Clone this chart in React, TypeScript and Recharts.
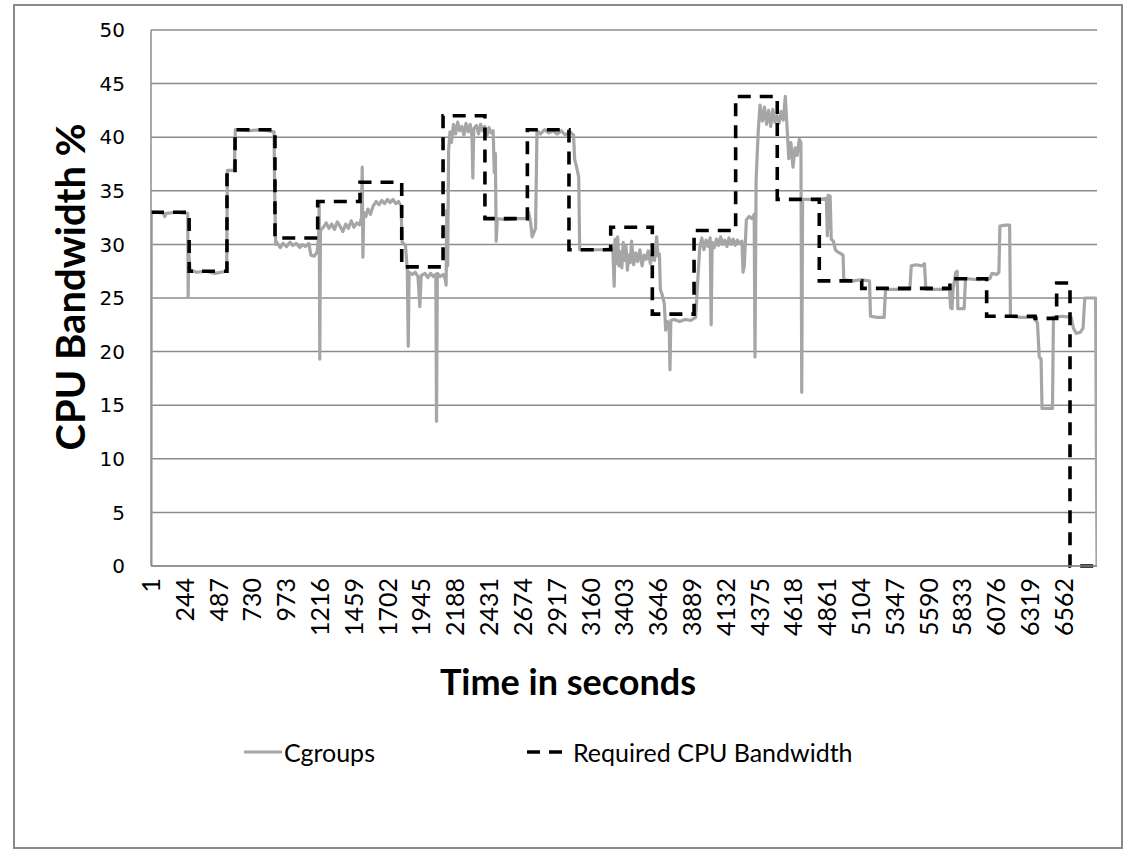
import React from 'react';
import { LineChart, Line, XAxis, YAxis, CartesianGrid } from 'recharts';

const xTicks = [1, 244, 487, 730, 973, 1216, 1459, 1702, 1945, 2188, 2431, 2674, 2917, 3160, 3403, 3646, 3889, 4132, 4375, 4618, 4861, 5104, 5347, 5590, 5833, 6076, 6319, 6562];
const yTicks = [0, 5, 10, 15, 20, 25, 30, 35, 40, 45, 50];

// Required CPU bandwidth: step breakpoints [time, value]
const requiredPoints: [number, number][] = [
  [1, 33], [275, 27.5], [547, 36.9], [605, 40.7], [892, 30.6], [1199, 34.0], [1503, 35.8],
  [1803, 27.9], [2100, 42.0], [2401, 32.4], [2706, 40.7], [3005, 29.5], [3305, 31.6],
  [3604, 23.5], [3904, 31.3], [4203, 43.8], [4502, 34.2], [4804, 26.6], [5109, 25.9],
  [5743, 26.8], [6007, 23.3], [6355, 23.1], [6510, 26.4], [6606, 0], [6800, 0],
];

// Cgroups measured bandwidth [time, value]
const cgroupsPoints: [number, number][] = [
  [1, 0], [3, 33.0], [40, 33.0], [90, 32.9], [100, 32.6], [110, 32.9], [180, 33.0], [265, 32.9], [268, 25.1], [272, 29.2], [282, 27.6],
  [330, 27.4], [400, 27.5], [460, 27.3], [545, 27.5], [550, 36.9], [600, 36.9], [607, 40.7], [700, 40.6], [800, 40.7], [885, 40.5],
  [890, 35.0], [897, 30.0], [905, 30.2], [930, 29.7], [950, 30.1], [975, 29.8], [1000, 30.2], [1020, 29.9], [1045, 30.1], [1070, 29.7],
  [1090, 30.0], [1110, 29.8], [1135, 30.1], [1150, 29.0], [1175, 28.9], [1195, 29.3], [1206, 30.8], [1210, 34.0], [1214, 19.3], [1219, 31.3],
  [1240, 31.6], [1260, 32.0], [1280, 31.5], [1300, 31.9], [1320, 31.4], [1340, 32.1], [1360, 31.7], [1380, 31.2], [1400, 31.9], [1420, 31.5],
  [1440, 32.2], [1460, 31.6], [1480, 32.0], [1500, 31.8], [1514, 32.5], [1519, 37.2], [1524, 28.8], [1530, 33.0], [1545, 32.6], [1560, 33.3],
  [1578, 32.8], [1598, 33.6], [1620, 34.0], [1640, 33.7], [1660, 34.1], [1680, 33.8], [1700, 34.2], [1720, 33.9], [1740, 34.2], [1760, 33.8],
  [1780, 34.0], [1798, 33.6], [1806, 30.2], [1830, 29.9], [1843, 27.6], [1850, 20.5], [1856, 27.4], [1880, 27.2], [1900, 27.4], [1920, 27.0],
  [1933, 24.2], [1943, 27.1], [1970, 27.3], [1990, 26.9], [2010, 27.3], [2030, 27.0], [2048, 27.2], [2053, 13.5], [2059, 27.3], [2080, 27.0],
  [2100, 27.2], [2115, 26.8], [2122, 26.2], [2127, 33.2], [2133, 28.0], [2140, 38.8], [2150, 40.5], [2160, 39.5], [2175, 41.2], [2190, 40.3],
  [2205, 41.4], [2220, 40.6], [2235, 41.0], [2250, 40.2], [2265, 41.3], [2280, 40.5], [2295, 41.2], [2308, 40.0], [2314, 36.2], [2321, 40.8],
  [2340, 41.1], [2355, 40.3], [2370, 41.2], [2385, 40.6], [2400, 41.0], [2415, 40.1], [2430, 40.9], [2445, 40.4], [2460, 40.6], [2468, 36.7],
  [2476, 38.5], [2482, 30.3], [2490, 32.4], [2550, 32.3], [2620, 32.4], [2700, 32.4], [2715, 33.0], [2730, 32.0], [2740, 30.7], [2765, 31.5],
  [2775, 40.6], [2800, 40.3], [2830, 40.7], [2860, 40.4], [2890, 40.6], [2920, 40.3], [2950, 40.6], [2980, 40.2], [3010, 40.5], [3038, 40.2],
  [3046, 37.9], [3060, 37.2], [3075, 36.3], [3082, 29.5], [3150, 29.5], [3250, 29.5], [3320, 29.6], [3330, 26.1], [3336, 30.5], [3345, 28.2],
  [3355, 30.7], [3365, 28.0], [3375, 29.3], [3385, 27.8], [3395, 30.2], [3405, 28.5], [3415, 29.8], [3425, 27.6], [3435, 29.0], [3445, 28.3],
  [3455, 30.3], [3470, 28.1], [3485, 29.2], [3500, 28.4], [3515, 29.5], [3530, 28.0], [3545, 29.0], [3560, 28.6], [3575, 29.4], [3590, 28.2],
  [3605, 29.0], [3620, 28.5], [3635, 30.7], [3645, 28.9], [3655, 29.1], [3662, 25.8], [3675, 25.3], [3690, 24.5], [3700, 22.0], [3712, 22.8],
  [3725, 22.5], [3731, 18.3], [3737, 22.9], [3760, 23.0], [3800, 22.8], [3840, 23.0], [3880, 22.9], [3915, 23.2], [3930, 26.5], [3945, 29.7],
  [3960, 30.6], [3975, 29.5], [3990, 30.4], [4005, 29.8], [4020, 30.6], [4027, 22.5], [4034, 30.2], [4050, 29.7], [4065, 30.5], [4080, 29.9],
  [4095, 30.7], [4110, 30.0], [4125, 30.4], [4140, 29.8], [4155, 30.6], [4170, 30.0], [4185, 30.5], [4200, 29.9], [4215, 30.4], [4230, 30.1],
  [4248, 30.3], [4256, 27.4], [4265, 28.0], [4280, 32.3], [4300, 32.6], [4320, 32.4], [4336, 32.8], [4342, 19.5], [4350, 36.0], [4365, 40.5],
  [4378, 43.0], [4395, 41.5], [4410, 42.8], [4425, 41.2], [4440, 42.5], [4455, 41.0], [4470, 42.6], [4485, 41.4], [4500, 42.0], [4515, 41.3],
  [4530, 42.4], [4545, 41.6], [4560, 43.8], [4572, 41.0], [4585, 38.0], [4600, 39.5], [4615, 37.2], [4630, 39.0], [4645, 38.3], [4660, 39.8],
  [4672, 39.5], [4678, 16.2], [4684, 34.2], [4750, 34.2], [4820, 34.2], [4855, 34.3], [4862, 30.8], [4868, 34.6], [4875, 31.5], [4882, 34.5],
  [4890, 30.5], [4905, 30.3], [4920, 29.5], [4935, 29.3], [4950, 29.2], [4975, 29.0], [4980, 26.7], [5050, 26.6], [5100, 26.7], [5165, 26.6],
  [5172, 23.3], [5220, 23.2], [5270, 23.2], [5280, 25.8], [5350, 25.8], [5455, 25.8], [5465, 28.0], [5500, 28.1], [5540, 28.0], [5560, 28.2],
  [5570, 25.8], [5650, 25.8], [5740, 25.8], [5748, 24.1], [5758, 24.0], [5765, 25.8], [5785, 27.4], [5795, 27.5], [5800, 24.0], [5845, 24.0],
  [5855, 26.8], [5950, 26.7], [6030, 26.8], [6045, 27.3], [6080, 27.2], [6095, 27.4], [6102, 31.7], [6140, 31.8], [6172, 31.8], [6178, 23.3],
  [6250, 23.2], [6350, 23.2], [6365, 22.8], [6372, 22.7], [6385, 19.5], [6398, 19.3], [6405, 14.7], [6480, 14.7], [6487, 23.2], [6550, 23.3],
  [6615, 23.2], [6630, 22.2], [6650, 21.7], [6680, 21.8], [6700, 22.2], [6712, 25.0], [6790, 25.0], [6800, 0],
];

const cgroupsData = cgroupsPoints.map(([t, v]) => ({ t, v }));
const requiredData = requiredPoints.map(([t, v]) => ({ t, v }));

const CALIBRI = 'Lato, "Open Sans", sans-serif';
const GRID = '#8c8c8c';

const XTick = (props: any) => {
  const { x, y, payload } = props;
  return (
    <text x={x} y={y} transform={`rotate(-90, ${x}, ${y})`} textAnchor="end" dy="0.36em"
      fontFamily={CALIBRI} fontSize={25} fill="#000">
      {payload.value}
    </text>
  );
};

const YTick = (props: any) => {
  const { x, y, payload } = props;
  return (
    <text x={x} y={y} textAnchor="end" dy="0.36em" fontFamily='"DejaVu Sans", sans-serif' fontSize={20} fill="#000">
      {payload.value}
    </text>
  );
};

export default function App() {
  return (
    <div style={{ position: 'absolute', left: 0, top: 0, width: 1127, height: 850, background: '#fff' }}>
      <div style={{ position: 'absolute', left: 13, top: 4, width: 1110, height: 845, border: '2px solid #8a8a8a', boxSizing: 'border-box' }} />
      <div style={{ position: 'absolute', left: 0, top: 0 }}>
        <LineChart width={1127} height={850} margin={{ top: 30, right: 30, bottom: 0, left: 0 }}>
          <CartesianGrid vertical={false} stroke={GRID} strokeWidth={1.5} />
          <XAxis dataKey="t" type="number" domain={[1, 6800]} ticks={xTicks} interval={0} height={284}
            tick={<XTick />} tickLine={false} tickSize={6} tickMargin={6}
            axisLine={{ stroke: GRID, strokeWidth: 1.5 }} allowDataOverflow />
          <YAxis type="number" domain={[0, 50]} ticks={yTicks} width={151} interval={0}
            tick={<YTick />} tickLine={false} tickSize={6} tickMargin={20}
            axisLine={{ stroke: GRID, strokeWidth: 1.5 }} />
          <Line data={cgroupsData} dataKey="v" type="linear" stroke="#a6a6a6" strokeWidth={3.2}
            dot={false} isAnimationActive={false} strokeLinejoin="round" />
          <Line data={requiredData} dataKey="v" type="stepAfter" stroke="#000" strokeWidth={3.6}
            strokeDasharray="13 9" dot={false} isAnimationActive={false} />
        </LineChart>
      </div>
      <svg width={1127} height={850} style={{ position: 'absolute', left: 0, top: 0, pointerEvents: 'none' }}>
        <text x={0} y={0} transform="translate(70, 287) rotate(-90)" textAnchor="middle" dominantBaseline="central"
          fontFamily={CALIBRI} fontWeight={700} fontSize={40} fill="#000">CPU Bandwidth %</text>
        <text x={568} y={681} textAnchor="middle" dominantBaseline="central"
          fontFamily={CALIBRI} fontWeight={700} fontSize={36} fill="#000">Time in seconds</text>
        <line x1={244} y1={752} x2={282} y2={752} stroke="#a6a6a6" strokeWidth={3.2} />
        <text x={284} y={752} dominantBaseline="central" fontFamily={CALIBRI} fontSize={25} fill="#000">Cgroups</text>
        <line x1={527} y1={752} x2={562} y2={752} stroke="#000" strokeWidth={3.6} strokeDasharray="13 9" />
        <text x={573} y={752} dominantBaseline="central" fontFamily={CALIBRI} fontSize={25} fill="#000">Required CPU Bandwidth</text>
      </svg>
    </div>
  );
}
